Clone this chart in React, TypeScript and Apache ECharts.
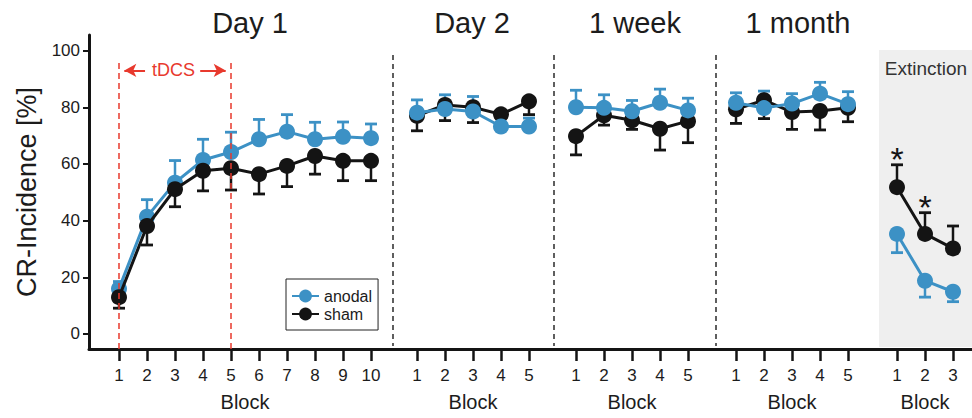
import React, { useEffect, useRef } from 'react';
import * as echarts from 'echarts';

// ---- data ----
const panelTitles = ['Day 1', 'Day 2', '1 week', '1 month'];
const extinctionLabel = 'Extinction';
const blockCounts = [10, 5, 5, 5, 3];

const anodalDay1 = [16, 41.4, 53.4, 61.4, 64.2, 68.7, 71.4, 68.7, 69.6, 69.1];
const anodalDay1Err = [2.5, 6, 7.8, 7.3, 7, 7, 6, 6, 5.2, 5];
const shamDay1 = [13, 38.1, 51.1, 57.6, 58.5, 56.4, 59.3, 62.8, 61.1, 61.1];
const shamDay1Err = [3.9, 6.7, 6.2, 7.1, 7.7, 7, 7.3, 6.4, 7, 7];

const anodalDay2 = [78.1, 79.4, 78.5, 73.2, 73.2];
const anodalDay2Err = [4.5, 5, 5.3, 3.5, 3];
const shamDay2 = [77, 80.8, 80, 77.5, 82.1];
const shamDay2Err = [5.3, 5.5, 5.4, 3.5, 4.7];

const anodalWeek = [80, 79.8, 78.6, 81.6, 78.9];
const anodalWeekErr = [6, 4.6, 3.8, 4.8, 4.3];
const shamWeek = [69.8, 77.2, 75.4, 72.4, 75.1];
const shamWeekErr = [6.6, 3.5, 3.2, 7.5, 7.6];

const anodalMonth = [81.6, 79.7, 81.3, 84.8, 81.1];
const anodalMonthErr = [3.5, 6, 3.5, 4, 4.4];
const shamMonth = [79.3, 82.5, 78.3, 78.7, 79.8];
const shamMonthErr = [5, 6.5, 6.1, 6.7, 4.9];

const anodalExt = [35.3, 18.8, 14.9];
const anodalExtErr = [6.6, 5.8, 3.5];
const shamExt = [51.8, 35.3, 30.2];
const shamExtErr = [7.9, 7.5, 7.9];

// error bar direction per panel (+1 up, -1 down)
const anodalDir = [1, 1, 1, 1, -1];
const shamDir = [-1, -1, -1, -1, 1];

const yTicks = [0, 20, 40, 60, 80, 100];
const significantBlocks = [1, 2];

const anodalMeans = [anodalDay1, anodalDay2, anodalWeek, anodalMonth, anodalExt];
const anodalErrs = [anodalDay1Err, anodalDay2Err, anodalWeekErr, anodalMonthErr, anodalExtErr];
const shamMeans = [shamDay1, shamDay2, shamWeek, shamMonth, shamExt];
const shamErrs = [shamDay1Err, shamDay2Err, shamWeekErr, shamMonthErr, shamExtErr];

// ---- layout / style ----
const W = 972;
const H = 418;
const FONT = '"Liberation Sans", Arial, Helvetica, sans-serif';
const BLUE = '#3c91c5';
const BLACK = '#141414';
const RED = '#e8392d';
const TEXT = '#1c1c1c';
const gridTop = 35;
const gridBottom = 69; // axis line at y=349
const yMin = -5.3;
const yMax = 105.5;
const panelLeft = [119, 417, 576, 736, 897];
const blockSpacing = 28;
const separatorsX = [393, 554, 716];
const extinctionLeft = 879;
const titleX = [250, 472, 635, 798];

const makeErrRender = (color: string) => (params: any, api: any) => {
  const x = api.value(0);
  const y = api.value(1);
  const e = api.value(2);
  const d = api.value(3);
  const p0 = api.coord([x, y]);
  const p1 = api.coord([x, y + d * e]);
  const hw = 6;
  return {
    type: 'group',
    children: [
      { type: 'line', shape: { x1: p0[0], y1: p0[1], x2: p1[0], y2: p1[1] }, style: { stroke: color, lineWidth: 2.5 } },
      { type: 'line', shape: { x1: p1[0] - hw, y1: p1[1], x2: p1[0] + hw, y2: p1[1] }, style: { stroke: color, lineWidth: 2.8 } },
    ],
  };
};

export default function App() {
  const ref = useRef<HTMLDivElement>(null);
  useEffect(() => {
    if (!ref.current) return;
    const chart = echarts.init(ref.current, null, { renderer: 'svg' });

    const grids: any[] = [{ left: 89, right: 0, top: gridTop, bottom: gridBottom }];
    const xAxes: any[] = [
      {
        gridIndex: 0, type: 'value', min: 0, max: 1,
        axisLine: { show: true, onZero: false, lineStyle: { color: BLACK, width: 3 } },
        axisTick: { show: false }, axisLabel: { show: false }, splitLine: { show: false },
      },
    ];
    const yAxes: any[] = [
      {
        gridIndex: 0, type: 'value', min: yMin, max: yMax,
        axisLine: { show: true, onZero: false, lineStyle: { color: BLACK, width: 3 } },
        axisTick: { show: true, length: 6, customValues: yTicks, lineStyle: { color: BLACK, width: 2 } },
        axisLabel: { customValues: yTicks, fontSize: 17, color: TEXT, fontFamily: FONT, margin: 9 },
        splitLine: { show: false },
        name: 'CR-Incidence [%]', nameLocation: 'middle', nameGap: 48,
        nameTextStyle: { fontSize: 27, color: TEXT, fontFamily: FONT },
      },
    ];
    const series: any[] = [];

    blockCounts.forEach((n, i) => {
      const gi = i + 1;
      grids.push({ left: panelLeft[i], width: (n - 1) * blockSpacing, top: gridTop, bottom: gridBottom });
      xAxes.push({
        gridIndex: gi, type: 'value', min: 1, max: n, interval: 1,
        axisLine: { show: false, onZero: false },
        axisTick: { show: true, length: 12, lineStyle: { color: BLACK, width: 2.5 } },
        axisLabel: { fontSize: 17, color: TEXT, fontFamily: FONT, margin: 18 },
        splitLine: { show: false },
        name: 'Block', nameLocation: 'middle', nameGap: 43,
        nameTextStyle: { fontSize: 20, color: TEXT, fontFamily: FONT },
      });
      yAxes.push({ gridIndex: gi, type: 'value', min: yMin, max: yMax, show: false });

      const shamOnTop = i === 0;
      series.push({
        type: 'custom', name: 'anodal err', xAxisIndex: gi, yAxisIndex: gi, z: 1,
        renderItem: makeErrRender(BLUE),
        data: anodalMeans[i].map((v, j) => [j + 1, v, anodalErrs[i][j], anodalDir[i]]),
        encode: { x: 0, y: 1 }, silent: true,
      });
      series.push({
        type: 'custom', name: 'sham err', xAxisIndex: gi, yAxisIndex: gi, z: 1,
        renderItem: makeErrRender(BLACK),
        data: shamMeans[i].map((v, j) => [j + 1, v, shamErrs[i][j], shamDir[i]]),
        encode: { x: 0, y: 1 }, silent: true,
      });

      const anodal: any = {
        type: 'line', name: 'anodal', xAxisIndex: gi, yAxisIndex: gi,
        data: anodalMeans[i].map((v, j) => [j + 1, v]),
        symbol: 'circle', symbolSize: 16, showAllSymbol: true, clip: false,
        lineStyle: { color: BLUE, width: 3 }, itemStyle: { color: BLUE },
        z: shamOnTop ? 3 : 4,
      };
      const sham: any = {
        type: 'line', name: 'sham', xAxisIndex: gi, yAxisIndex: gi,
        data: shamMeans[i].map((v, j) => [j + 1, v]),
        symbol: 'circle', symbolSize: 16, showAllSymbol: true, clip: false,
        lineStyle: { color: BLACK, width: 3 }, itemStyle: { color: BLACK },
        z: shamOnTop ? 4 : 3,
      };
      if (i === 0) {
        anodal.markLine = {
          silent: true, symbol: 'none', label: { show: false },
          lineStyle: { color: RED, type: [6, 4], width: 1.5 },
          data: [
            [{ coord: [1, yMin] }, { coord: [1, 95.6] }],
            [{ coord: [5, yMin] }, { coord: [5, 95.6] }],
          ],
        };
        sham.markLine = {
          silent: true, label: { show: false }, symbolSize: [10, 12],
          lineStyle: { color: RED, type: 'solid', width: 2 },
          data: [
            [{ coord: [1.19, 93], symbol: 'arrow' }, { coord: [1.93, 93], symbol: 'none' }],
            [{ coord: [3.9, 93], symbol: 'none' }, { coord: [4.81, 93], symbol: 'arrow' }],
          ],
        };
        sham.markPoint = {
          silent: true,
          data: [{
            coord: [2.95, 93], symbol: 'rect', symbolSize: 1, itemStyle: { color: 'rgba(0,0,0,0)' },
            label: { show: true, position: 'inside', formatter: 'tDCS', color: RED, fontSize: 18, fontFamily: FONT },
          }],
        };
      }
      if (i === 4) {
        sham.markPoint = {
          silent: true,
          data: significantBlocks.map((b) => ({
            coord: [b, shamExt[b - 1] + shamExtErr[b - 1] + 2],
            symbol: 'rect', symbolSize: 1, itemStyle: { color: 'rgba(0,0,0,0)' },
            label: { show: true, position: 'inside', formatter: '*', color: BLACK, fontSize: 34, fontFamily: FONT },
          })),
        };
      }
      series.push(anodal, sham);
    });

    const graphics: any[] = [
      {
        type: 'rect', z: -10, silent: true,
        shape: { x: extinctionLeft, y: 50, width: W - extinctionLeft, height: 347 - 50 },
        style: { fill: '#efefef' },
      },
      {
        type: 'text', x: (extinctionLeft + W) / 2 + 0.5, y: 68, silent: true,
        style: { text: extinctionLabel, fontSize: 19, fontFamily: FONT, fill: '#333', align: 'center', verticalAlign: 'middle' },
      },
      ...separatorsX.map((x) => ({
        type: 'line', silent: true,
        shape: { x1: x, y1: 55, x2: x, y2: 346 },
        style: { stroke: '#2a2a2a', lineWidth: 1.5, lineDash: [5, 4] },
      })),
      ...panelTitles.map((t, i) => ({
        type: 'text', x: titleX[i], y: 22.5, silent: true,
        style: { text: t, fontSize: 29, fontFamily: FONT, fill: TEXT, align: 'center', verticalAlign: 'middle' },
      })),
    ];

    chart.setOption({
      animation: false,
      backgroundColor: '#fff',
      grid: grids,
      xAxis: xAxes,
      yAxis: yAxes,
      series,
      graphic: graphics,
      legend: {
        data: ['anodal', 'sham'],
        orient: 'vertical', left: 286, top: 279,
        padding: [9, 6, 8, 5], itemGap: 2, itemWidth: 27, itemHeight: 16,
        borderColor: '#222', borderWidth: 1, backgroundColor: '#fff',
        textStyle: { fontSize: 16, color: TEXT, fontFamily: FONT },
        selectedMode: false,
      },
    });
    return () => chart.dispose();
  }, []);

  return (
    <div
      ref={ref}
      style={{ position: 'fixed', left: 0, top: 0, width: W, height: H, background: '#fff' }}
    />
  );
}
